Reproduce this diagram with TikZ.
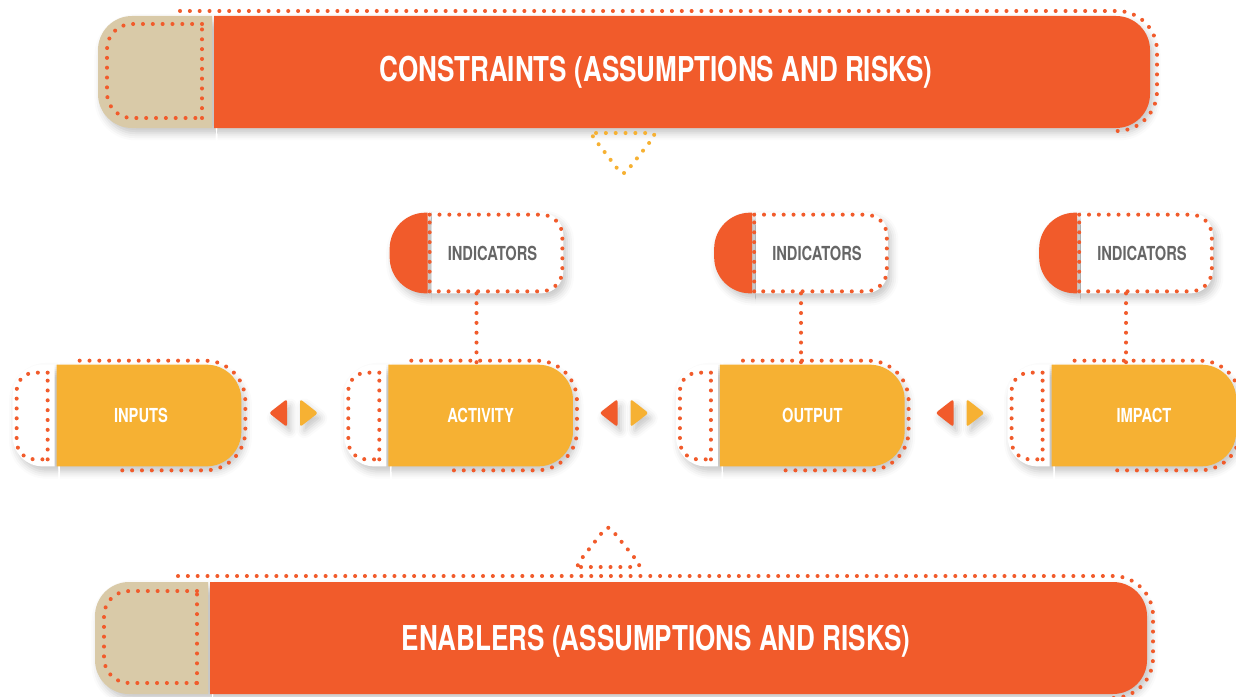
\documentclass[tikz,border=0pt]{standalone}
\usepackage{fontspec}
\usepackage{tikz}
\usetikzlibrary{positioning,calc,backgrounds,shadows.blur}
\newfontfamily\condfont{TeX Gyre Heros}[FakeStretch=0.76]
\definecolor{flame}{RGB}{241,91,43}
\definecolor{amber}{RGB}{246,177,51}
\definecolor{sand}{RGB}{217,202,168}
\definecolor{slate}{RGB}{102,102,102}
\tikzset{
  dots/.style={draw=flame,line width=2.3pt,line cap=round,dash pattern=on 0pt off 5.6pt},
  softshadow/.style={blur shadow={shadow xshift=2pt,shadow yshift=-3pt,shadow blur radius=4pt,shadow opacity=22}},
  bartext/.style={text=white,font=\condfont\bfseries\fontsize{19.5}{22}\selectfont},
  stage/.style={minimum width=3.68cm,minimum height=2.02cm,inner sep=0pt,text=white,font=\condfont\bfseries\fontsize{11}{12}\selectfont},
  indbox/.style={minimum width=3.46cm,minimum height=1.6cm,inner sep=0pt},
  indtext/.style={text=slate,font=\condfont\bfseries\fontsize{11}{12}\selectfont},
}
\begin{document}
\begin{tikzpicture}[x=0.02cm,y=-0.02cm]
\useasboundingbox (0,0) rectangle (1236,696);

\node[bartext] (constraints) at (656,72) {CONSTRAINTS (ASSUMPTIONS AND RISKS)};
\node[bartext] (enablers) at (656,641) {ENABLERS (ASSUMPTIONS AND RISKS)};

\node[stage] (inp) at (149,415.5) {\hspace*{-0.32cm}INPUTS};
\node[stage,right=2.94cm of inp] (act) {ACTIVITY};
\node[stage,right=2.94cm of act] (out) {OUTPUT};
\node[stage,right=2.94cm of out] (imp) {IMPACT};

\node[indbox] (ind1) at (476.5,253) {};
\node[indbox] (ind2) at (801,253) {};
\node[indbox] (ind3) at (1126,253) {};
\node[indtext] (ind1label) at ($(ind1.center)+(16,0)$) {INDICATORS};
\node[indtext] (ind2label) at ($(ind2.center)+(16,0)$) {INDICATORS};
\node[indtext] (ind3label) at ($(ind3.center)+(16,0)$) {INDICATORS};

\coordinate (gap1) at (293.5,413);
\coordinate (gap2) at (624,413);
\coordinate (gap3) at (960,413);

\begin{scope}[on background layer]
% the two bars
\fill[sand,softshadow,rounded corners=0.68cm] (212,16) -- (98,16) -- (98,128) -- (212,128);
\fill[flame,softshadow,rounded corners=0.68cm] (214,16) -- (1150,16) -- (1150,128) -- (214,128);
\fill[sand,softshadow,rounded corners=0.68cm] (208,582) -- (95,582) -- (95,694) -- (208,694);
\fill[flame,softshadow,rounded corners=0.68cm] (210,582) -- (1147,582) -- (1147,694) -- (210,694);
% stages
\fill[white,softshadow,rounded corners=0.6cm] ($(inp.north west)+(-2,0)$) -- ($(inp.north west)+(-44,0)$) -- ($(inp.south west)+(-44,0)$) -- ($(inp.south west)+(-2,0)$);
\fill[amber,softshadow,rounded corners=0.7cm] (inp.north west) -- (inp.north east) -- (inp.south east) -- (inp.south west);
\fill[white,softshadow,rounded corners=0.6cm] ($(act.north west)+(-2,0)$) -- ($(act.north west)+(-44,0)$) -- ($(act.south west)+(-44,0)$) -- ($(act.south west)+(-2,0)$);
\fill[amber,softshadow,rounded corners=0.7cm] (act.north west) -- (act.north east) -- (act.south east) -- (act.south west);
\fill[white,softshadow,rounded corners=0.6cm] ($(out.north west)+(-2,0)$) -- ($(out.north west)+(-44,0)$) -- ($(out.south west)+(-44,0)$) -- ($(out.south west)+(-2,0)$);
\fill[amber,softshadow,rounded corners=0.7cm] (out.north west) -- (out.north east) -- (out.south east) -- (out.south west);
\fill[white,softshadow,rounded corners=0.6cm] ($(imp.north west)+(-2,0)$) -- ($(imp.north west)+(-44,0)$) -- ($(imp.south west)+(-44,0)$) -- ($(imp.south west)+(-2,0)$);
\fill[amber,softshadow,rounded corners=0.7cm] (imp.north west) -- (imp.north east) -- (imp.south east) -- (imp.south west);
% indicator boxes
\fill[white,softshadow,rounded corners=0.44cm] ($(ind1.north west)+(38,0)$) -- (ind1.north east) -- (ind1.south east) -- ($(ind1.south west)+(38,0)$);
\fill[flame,softshadow,rounded corners=0.72cm] ($(ind1.north west)+(38,0)$) -- (ind1.north west) -- (ind1.south west) -- ($(ind1.south west)+(38,0)$);
\fill[white,softshadow,rounded corners=0.44cm] ($(ind2.north west)+(38,0)$) -- (ind2.north east) -- (ind2.south east) -- ($(ind2.south west)+(38,0)$);
\fill[flame,softshadow,rounded corners=0.72cm] ($(ind2.north west)+(38,0)$) -- (ind2.north west) -- (ind2.south west) -- ($(ind2.south west)+(38,0)$);
\fill[white,softshadow,rounded corners=0.44cm] ($(ind3.north west)+(38,0)$) -- (ind3.north east) -- (ind3.south east) -- ($(ind3.south west)+(38,0)$);
\fill[flame,softshadow,rounded corners=0.72cm] ($(ind3.north west)+(38,0)$) -- (ind3.north west) -- (ind3.south west) -- ($(ind3.south west)+(38,0)$);
% arrow pairs
\fill[flame,softshadow,rounded corners=1.5pt] ($(gap1)+(-6.5,-14)$) -- ($(gap1)+(-24.5,0)$) -- ($(gap1)+(-6.5,14)$) -- cycle;
\fill[amber,softshadow,rounded corners=1.5pt] ($(gap1)+(6.5,-14)$) -- ($(gap1)+(24.5,0)$) -- ($(gap1)+(6.5,14)$) -- cycle;
\fill[flame,softshadow,rounded corners=1.5pt] ($(gap2)+(-6.5,-14)$) -- ($(gap2)+(-24.5,0)$) -- ($(gap2)+(-6.5,14)$) -- cycle;
\fill[amber,softshadow,rounded corners=1.5pt] ($(gap2)+(6.5,-14)$) -- ($(gap2)+(24.5,0)$) -- ($(gap2)+(6.5,14)$) -- cycle;
\fill[flame,softshadow,rounded corners=1.5pt] ($(gap3)+(-6.5,-14)$) -- ($(gap3)+(-24.5,0)$) -- ($(gap3)+(-6.5,14)$) -- cycle;
\fill[amber,softshadow,rounded corners=1.5pt] ($(gap3)+(6.5,-14)$) -- ($(gap3)+(24.5,0)$) -- ($(gap3)+(6.5,14)$) -- cycle;
\end{scope}

% dotted outlines
\draw[dots,rounded corners=0.8cm] (180,11) -- (1157,11) -- (1157,131) -- (1115,131);
\draw[dots,rounded corners=0.8cm] (178,576) -- (1153,576) -- (1153,698) -- (1115,698);
\draw[dots,rounded corners=0.5cm] (202,24) -- (107,24) -- (107,118) -- (202,118);
\draw[dots] (202,118) -- (202,24);
\draw[dots,rounded corners=0.5cm] (197,591) -- (104,591) -- (104,683) -- (197,683);
\draw[dots] (197,683) -- (197,591);
\draw[dots,draw=amber,rounded corners=0.12cm] (590,133) -- (657,133) -- (623,176) -- cycle;
\draw[dots,rounded corners=0.12cm] (575,567) -- (642,567) -- (608,525) -- cycle;

\draw[dots,rounded corners=0.8cm] ($(inp.north west)+(23,-4)$) -- ($(inp.north east)+(4,-4)$) -- ($(inp.south east)+(4,4)$) -- ($(inp.south west)+(64,4)$);
\draw[dots,rounded corners=0.36cm] ($(inp.north west)+(-9,8)$) -- ($(inp.north west)+(-40,8)$) -- ($(inp.south west)+(-40,-7)$) -- ($(inp.south west)+(-9,-7)$);
\draw[dots] ($(inp.south west)+(-9,-7)$) -- ($(inp.north west)+(-9,8)$);
\draw[dots,rounded corners=0.8cm] ($(act.north west)+(23,-4)$) -- ($(act.north east)+(4,-4)$) -- ($(act.south east)+(4,4)$) -- ($(act.south west)+(64,4)$);
\draw[dots,rounded corners=0.36cm] ($(act.north west)+(-9,8)$) -- ($(act.north west)+(-40,8)$) -- ($(act.south west)+(-40,-7)$) -- ($(act.south west)+(-9,-7)$);
\draw[dots] ($(act.south west)+(-9,-7)$) -- ($(act.north west)+(-9,8)$);
\draw[dots,rounded corners=0.8cm] ($(out.north west)+(23,-4)$) -- ($(out.north east)+(4,-4)$) -- ($(out.south east)+(4,4)$) -- ($(out.south west)+(64,4)$);
\draw[dots,rounded corners=0.36cm] ($(out.north west)+(-9,8)$) -- ($(out.north west)+(-40,8)$) -- ($(out.south west)+(-40,-7)$) -- ($(out.south west)+(-9,-7)$);
\draw[dots] ($(out.south west)+(-9,-7)$) -- ($(out.north west)+(-9,8)$);
\draw[dots,rounded corners=0.8cm] ($(imp.north west)+(23,-4)$) -- ($(imp.north east)+(4,-4)$) -- ($(imp.south east)+(4,4)$) -- ($(imp.south west)+(64,4)$);
\draw[dots,rounded corners=0.36cm] ($(imp.north west)+(-9,8)$) -- ($(imp.north west)+(-40,8)$) -- ($(imp.south west)+(-40,-7)$) -- ($(imp.south west)+(-9,-7)$);
\draw[dots] ($(imp.south west)+(-9,-7)$) -- ($(imp.north west)+(-9,8)$);

\draw[dots,rounded corners=0.42cm] ($(ind1.north west)+(40,2)$) -- ($(ind1.north east)+(-1,2)$) -- ($(ind1.south east)+(-1,-2)$) -- ($(ind1.south west)+(40,-2)$);
\draw[dots] ($(ind1.south west)+(40,-2)$) -- ($(ind1.north west)+(40,2)$);
\draw[dots,rounded corners=0.42cm] ($(ind2.north west)+(40,2)$) -- ($(ind2.north east)+(-1,2)$) -- ($(ind2.south east)+(-1,-2)$) -- ($(ind2.south west)+(40,-2)$);
\draw[dots] ($(ind2.south west)+(40,-2)$) -- ($(ind2.north west)+(40,2)$);
\draw[dots,rounded corners=0.42cm] ($(ind3.north west)+(40,2)$) -- ($(ind3.north east)+(-1,2)$) -- ($(ind3.south east)+(-1,-2)$) -- ($(ind3.south west)+(40,-2)$);
\draw[dots] ($(ind3.south west)+(40,-2)$) -- ($(ind3.north west)+(40,2)$);

\draw[dots] (ind1.south) -- (ind1.south |- act.north);
\draw[dots] (ind2.south) -- (ind2.south |- out.north);
\draw[dots] (ind3.south) -- (ind3.south |- imp.north);
\end{tikzpicture}
\end{document}
